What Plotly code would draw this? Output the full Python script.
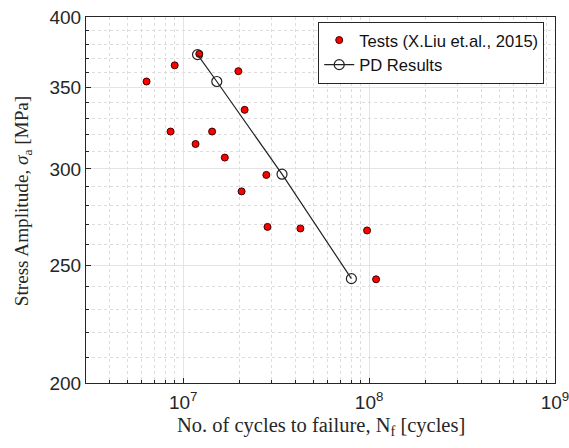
import plotly.graph_objects as go

# Test data (X.Liu et.al., 2015)
test_cycles = [6.35e6, 9.0e6, 1.22e7, 1.98e7, 2.14e7, 8.55e6, 1.43e7, 1.165e7,
               1.674e7, 2.80e7, 2.06e7, 2.84e7, 4.27e7, 9.75e7, 1.09e8]
test_stress = [354, 365, 373, 361, 335.5, 322, 322, 314.5,
               306.5, 296.6, 287.5, 268.8, 268, 267, 243.4]

# PD results
pd_cycles = [1.194e7, 1.516e7, 3.40e7, 8.03e7]
pd_stress = [372.5, 354, 297, 243.7]

x_major = [1e7, 1e8, 1e9]
x_major_text = ["10<sup>7</sup>", "10<sup>8</sup>", "10<sup>9</sup>"]
x_minor = [m * 10 ** e for e in (6, 7, 8) for m in range(2, 10)]
y_major = [200, 250, 300, 350, 400]
y_minor = list(range(200, 401, 10))

x_title = "No. of cycles to failure, N<sub>f</sub> [cycles]"
y_title = "Stress Amplitude, <i>σ</i><sub>a</sub> [MPa]"

fig = go.Figure()
fig.add_trace(go.Scatter(
    x=test_cycles, y=test_stress, mode="markers",
    name="Tests (X.Liu et.al., 2015)",
    marker=dict(color="#ff0000", size=7, line=dict(color="#3a0000", width=1)),
))
fig.add_trace(go.Scatter(
    x=pd_cycles, y=pd_stress, mode="lines+markers",
    name="PD Results",
    line=dict(color="#222222", width=1.2),
    marker=dict(symbol="circle-open", color="#222222", size=10, line=dict(width=1.2)),
))

axis_common = dict(
    type="log", showline=True, linecolor="#262626", linewidth=1, mirror=True,
    ticks="inside", ticklen=5, tickcolor="#262626",
    showgrid=True, gridcolor="#e4e4e4", gridwidth=1,
    zeroline=False, automargin=False, ticklabeloverflow="allow",
    tickfont=dict(family="Liberation Sans, Arial, sans-serif", size=19, color="#262626"),
)

serif = "Liberation Serif, Times New Roman, serif"
fig.update_layout(
    width=569, height=448,
    margin=dict(l=86, r=14, t=17, b=65, autoexpand=False),
    paper_bgcolor="white", plot_bgcolor="white",
    showlegend=True,
    legend=dict(
        x=0.977, y=0.987, xanchor="right", yanchor="top",
        bgcolor="white", bordercolor="#262626", borderwidth=1,
        font=dict(family="Liberation Sans, Arial, sans-serif", size=16.6, color="#111111"),
        tracegroupgap=0, itemwidth=30,
    ),
    annotations=[
        dict(text=x_title, xref="paper", yref="paper", x=0.5, y=-0.12,
             xanchor="center", yanchor="middle", showarrow=False,
             font=dict(family=serif, size=20.5, color="#262626")),
        dict(text=y_title, xref="paper", yref="paper", x=-0.134, y=0.497,
             xanchor="center", yanchor="middle", textangle=-90, showarrow=False,
             font=dict(family=serif, size=19.2, color="#262626")),
    ],
)

fig.update_xaxes(
    **axis_common,
    range=[6.477, 9],
    tickvals=x_major, ticktext=x_major_text,
    ticklabelstandoff=2,
    minor=dict(tickvals=x_minor, ticks="inside", ticklen=3, tickcolor="#262626",
               showgrid=True, gridcolor="#dcdcdc", griddash="dot", gridwidth=1),
)
fig.update_yaxes(
    **axis_common,
    range=[2.30103, 2.60206],
    tickvals=y_major,
    minor=dict(tickvals=y_minor, ticks="inside", ticklen=3, tickcolor="#262626",
               showgrid=True, gridcolor="#dcdcdc", griddash="dot", gridwidth=1),
)

fig.write_html("out.html")
